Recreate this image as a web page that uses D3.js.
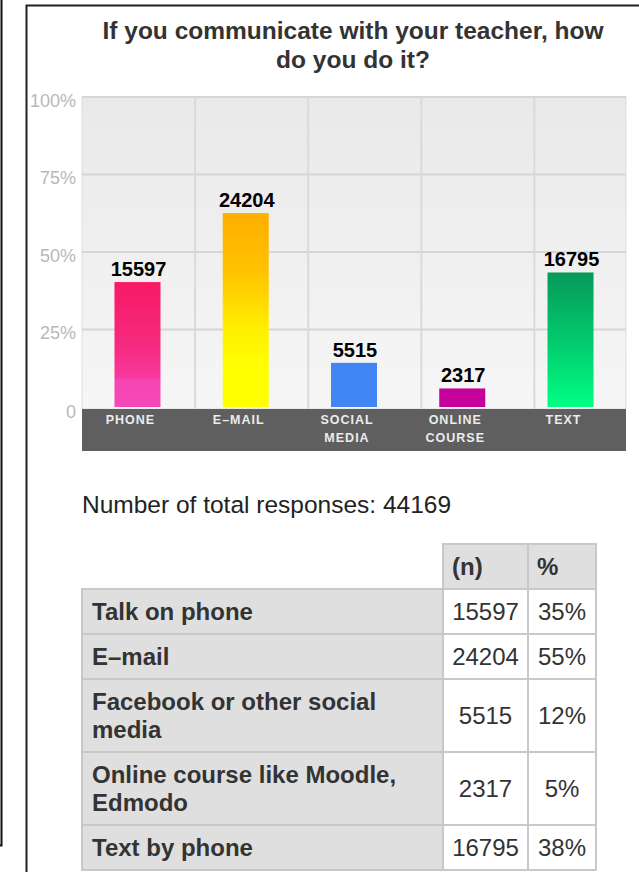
<!DOCTYPE html>
<html>
<head>
<meta charset="utf-8">
<script src="https://cdn.jsdelivr.net/npm/d3@7/dist/d3.min.js"></script>
<style>
  html, body { margin: 0; padding: 0; background: #fff; }
  svg { display: block; }
  text { font-family: Arial, "Liberation Sans", sans-serif; }
</style>
</head>
<body>
<script>
// Survey question and answers
const titleLines = ["If you communicate with your teacher, how", "do you do it?"];
const categories = ["PHONE", "E–MAIL", "SOCIAL MEDIA", "ONLINE COURSE", "TEXT"];
const categoryLines = [["PHONE"], ["E–MAIL"], ["SOCIAL", "MEDIA"], ["ONLINE", "COURSE"], ["TEXT"]];
const responses = [15597, 24204, 5515, 2317, 16795];
// number of responses that sits on the 100% gridline
const axisFullScale = 38700;
const yTickFractions = [0, 0.25, 0.5, 0.75, 1];
const yTickLabels = ["0", "25%", "50%", "75%", "100%"];
const totalResponses = 44169;

// Summary table
const tableHeaders = ["(n)", "%"];
const tableLabels = [
  ["Talk on phone"],
  ["E–mail"],
  ["Facebook or other social", "media"],
  ["Online course like Moodle,", "Edmodo"],
  ["Text by phone"]
];
const tablePercents = ["35%", "55%", "12%", "5%", "38%"];

// Bar fills (top → bottom gradient stops)
const barFills = [
  [[0, "#f81a63"], [0.5, "#f62a80"], [0.77, "#f63a9e"], [0.78, "#f545b3"], [1, "#f548b8"]],
  [[0, "#ffae00"], [0.3, "#ffc200"], [0.6, "#fff000"], [0.8, "#ffff00"], [1, "#ffff00"]],
  [[0, "#4286f4"], [1, "#4286f4"]],
  [[0, "#c6009a"], [1, "#c6009a"]],
  [[0, "#06985a"], [0.5, "#03c96d"], [1, "#00ff84"]]
];

const W = 639, H = 872;
const svg = d3.select("body").append("svg").attr("width", W).attr("height", H);
const defs = svg.append("defs");

// Frames
svg.append("path").attr("d", "M1.5,0 V845.5 H0").attr("fill", "none").attr("stroke", "#111").attr("stroke-width", 2);
svg.append("path").attr("d", `M26.5,${H} V5.5 H${W}`).attr("fill", "none").attr("stroke", "#222").attr("stroke-width", 2);

// Title
svg.append("text")
  .attr("x", 353).attr("y", 39)
  .attr("text-anchor", "middle")
  .attr("font-size", 24.5).attr("font-weight", "bold").attr("fill", "#333")
  .selectAll("tspan").data(titleLines).join("tspan")
  .attr("x", 353).attr("dy", (d, i) => i === 0 ? 0 : 29)
  .text(d => d);

// Plot geometry
const plot = { left: 82, right: 626, top: 97, bottom: 407 };
const x = d3.scaleBand().domain(categories).range([plot.left, plot.right]).paddingInner(0.575).paddingOuter(0.3);
const y = d3.scaleLinear().domain([0, axisFullScale]).range([plot.bottom, plot.top]);

// Plot background
const bg = defs.append("linearGradient").attr("id", "plotBg").attr("x1", 0).attr("y1", 0).attr("x2", 0).attr("y2", 1);
bg.append("stop").attr("offset", 0).attr("stop-color", "#e9e9e9");
bg.append("stop").attr("offset", 1).attr("stop-color", "#f6f6f6");
svg.append("rect")
  .attr("x", plot.left).attr("y", plot.top)
  .attr("width", plot.right - plot.left).attr("height", plot.bottom - plot.top + 2)
  .attr("fill", "url(#plotBg)").attr("stroke", "#dddddd").attr("stroke-width", 1);

// Horizontal gridlines from the y scale
const yTicks = yTickFractions.map(f => f * axisFullScale);
svg.append("g").selectAll("line").data(yTicks.slice(1)).join("line")
  .attr("x1", plot.left).attr("x2", plot.right)
  .attr("y1", d => y(d)).attr("y2", d => y(d))
  .attr("stroke", "#d6d6d6").attr("stroke-width", 2);

// Vertical gridlines
const gridStep = (plot.right - plot.left) / 4.81;
svg.append("g").selectAll("line").data(d3.range(1, 5)).join("line")
  .attr("x1", i => plot.left + i * gridStep).attr("x2", i => plot.left + i * gridStep)
  .attr("y1", plot.top).attr("y2", plot.bottom + 2)
  .attr("stroke", "#dadada").attr("stroke-width", 2);

// Y axis labels
const yAxis = d3.axisLeft(y).tickValues(yTicks).tickSize(0).tickPadding(0)
  .tickFormat((d, i) => yTickLabels[i]);
const yG = svg.append("g").attr("transform", `translate(${plot.left - 6},3)`).call(yAxis);
yG.select(".domain").remove();
yG.selectAll("text")
  .attr("font-size", 18).attr("fill", "#b8b8b8")
  .attr("font-family", "Arial, 'Liberation Sans', sans-serif")
  .attr("dy", "0.36em");
yG.selectAll(".tick").filter(d => d === 0).select("text").attr("dy", "0.4em");

// Category band
svg.append("rect")
  .attr("x", plot.left).attr("y", 409)
  .attr("width", plot.right - plot.left).attr("height", 42)
  .attr("fill", "#5f5f5f");

const xG = svg.append("g");
categories.forEach((c, i) => {
  const cx = x(c) + x.bandwidth() / 2 - 7;
  xG.append("text")
    .attr("x", cx).attr("y", 424)
    .attr("text-anchor", "middle")
    .attr("font-size", 12.5).attr("font-weight", "bold")
    .attr("letter-spacing", 1).attr("fill", "#ececec")
    .selectAll("tspan").data(categoryLines[i]).join("tspan")
    .attr("x", cx).attr("dy", (d, j) => j === 0 ? 0 : 18)
    .text(d => d);
});

// Bar gradients
barFills.forEach((stops, i) => {
  const g = defs.append("linearGradient").attr("id", "bar" + i)
    .attr("x1", 0).attr("y1", 0).attr("x2", 0).attr("y2", 1);
  stops.forEach(s => g.append("stop").attr("offset", s[0]).attr("stop-color", s[1]));
});

// Bars
svg.append("g").selectAll("rect").data(responses).join("rect")
  .attr("x", (d, i) => x(categories[i]))
  .attr("y", d => y(d))
  .attr("width", x.bandwidth())
  .attr("height", d => y(0) - y(d))
  .attr("fill", (d, i) => `url(#bar${i})`);

// Value labels
svg.append("g").selectAll("text").data(responses).join("text")
  .attr("x", (d, i) => x(categories[i]) + x.bandwidth() / 2 + 1)
  .attr("y", d => y(d) - 6)
  .attr("text-anchor", "middle")
  .attr("font-size", 20).attr("font-weight", "bold").attr("fill", "#000")
  .text(d => d);

// Total responses line
svg.append("text")
  .attr("x", 82).attr("y", 513)
  .attr("font-size", 24.5).attr("fill", "#222")
  .text(`Number of total responses: ${totalResponses}`);

// Table
const cols = [82, 443, 528, 596];
const headerTop = 544, headerBottom = 589;
const rowHeights = tableLabels.map(l => l.length > 1 ? 73 : 45);
const rowTops = [];
rowHeights.reduce((acc, h) => { rowTops.push(acc); return acc + h; }, headerBottom);
const border = "#c8c8c8";
const tg = svg.append("g");

// header cells
tableHeaders.forEach((h, i) => {
  tg.append("rect")
    .attr("x", cols[i + 1]).attr("y", headerTop)
    .attr("width", cols[i + 2] - cols[i + 1]).attr("height", headerBottom - headerTop)
    .attr("fill", "#dfdfdf").attr("stroke", border).attr("stroke-width", 2);
  tg.append("text")
    .attr("x", cols[i + 1] + 9).attr("y", headerTop + 31)
    .attr("font-size", 24).attr("font-weight", "bold").attr("fill", "#333")
    .text(h);
});

// body rows
tableLabels.forEach((lines, r) => {
  const top = rowTops[r], h = rowHeights[r], mid = top + h / 2;
  tg.append("rect").attr("x", cols[0]).attr("y", top)
    .attr("width", cols[1] - cols[0]).attr("height", h)
    .attr("fill", "#dfdfdf").attr("stroke", border).attr("stroke-width", 2);
  tg.append("rect").attr("x", cols[1]).attr("y", top)
    .attr("width", cols[2] - cols[1]).attr("height", h)
    .attr("fill", "#fff").attr("stroke", border).attr("stroke-width", 2);
  tg.append("rect").attr("x", cols[2]).attr("y", top)
    .attr("width", cols[3] - cols[2]).attr("height", h)
    .attr("fill", "#fff").attr("stroke", border).attr("stroke-width", 2);

  const lineH = 28;
  const firstBase = mid + 8 - (lines.length - 1) * lineH / 2;
  tg.append("text")
    .attr("x", cols[0] + 10).attr("y", firstBase)
    .attr("font-size", 24).attr("font-weight", "bold").attr("fill", "#333")
    .selectAll("tspan").data(lines).join("tspan")
    .attr("x", cols[0] + 10).attr("dy", (d, j) => j === 0 ? 0 : lineH)
    .text(d => d);

  tg.append("text")
    .attr("x", (cols[1] + cols[2]) / 2).attr("y", mid + 8)
    .attr("text-anchor", "middle")
    .attr("font-size", 24).attr("fill", "#333")
    .text(responses[r]);
  tg.append("text")
    .attr("x", (cols[2] + cols[3]) / 2).attr("y", mid + 8)
    .attr("text-anchor", "middle")
    .attr("font-size", 24).attr("fill", "#333")
    .text(tablePercents[r]);
});
</script>
</body>
</html>
